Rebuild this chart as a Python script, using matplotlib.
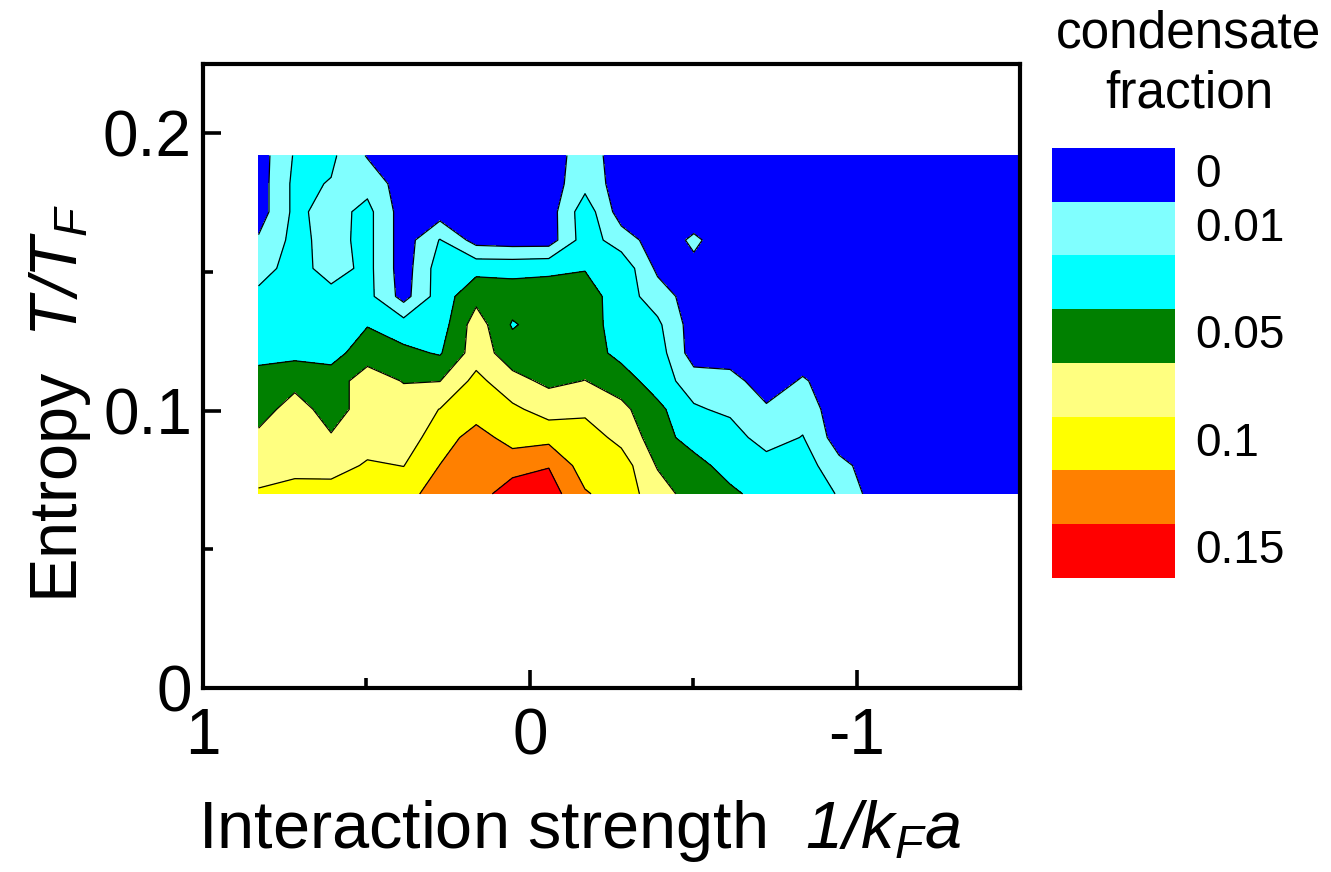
import numpy as np
import matplotlib
matplotlib.use("Agg")
import matplotlib.pyplot as plt

plt.rcParams['font.family'] = ['Liberation Sans', 'DejaVu Sans']
plt.rcParams['mathtext.fontset'] = 'custom'
plt.rcParams['mathtext.rm'] = 'Liberation Sans:italic'
plt.rcParams['mathtext.it'] = 'Liberation Sans:italic'
plt.rcParams['mathtext.bf'] = 'Liberation Sans:bold'

# interaction strength 1/kFa (grid columns, left to right on the plot)
interaction = [0.830, 0.719, 0.608, 0.497, 0.386, 0.275, 0.164, 0.053, -0.058, -0.169,
               -0.280, -0.391, -0.502, -0.613, -0.724, -0.835, -0.946, -1.057, -1.168,
               -1.279, -1.390, -1.500]
# T/TF (grid rows, bottom to top)
temperature = [0.0700, 0.0802, 0.0903, 0.1005, 0.1107, 0.1208, 0.1310, 0.1412, 0.1513,
               0.1615, 0.1717, 0.1818, 0.1920]

# condensate fraction in percent, one row per temperature (bottom to top)
fraction_pct = [
    [9.26, 10.0, 10.0, 10.0, 10.2, 12.0, 12.2, 14.0, 14.0, 11.2, 10.0, 8.0, 6.0, 5.52, 4.0, 4.0, 2.88, 0, 0, 0, 0, 0],
    [8.0, 8.14, 8.08, 9.26, 8.96, 11.04, 12.0, 12.24, 12.9, 10.0, 10.0, 6.82, 5.9, 4.0, 4.0, 4.0, 1.6, 0, 0, 0, 0, 0],
    [7.5, 8.0, 7.2, 8.0, 8.0, 10.0, 11.84, 10.2, 10.4, 10.0, 8.4, 6.0, 4.0, 4.0, 2.0, 3.1, 0, 0, 0, 0, 0, 0],
    [6.0, 8.0, 6.0, 8.0, 8.0, 9.04, 10.0, 9.4, 8.14, 8.56, 7.52, 5.52, 3.26, 2.58, 1.26, 2.0, 0, 0, 0, 0, 0, 0],
    [6.0, 6.3, 6.0, 8.0, 6.9, 6.96, 9.6, 7.6, 6.6, 7.04, 6.0, 4.0, 2.0, 1.7, 0, 1.2, 0, 0, 0, 0, 0, 0],
    [4.2, 4.5, 4.26, 6.08, 5.48, 4.82, 8.0, 6.0, 6.0, 6.0, 4.4, 4.0, 0, 0, 0, 0, 0, 0, 0, 0, 0, 0],
    [4.0, 4.0, 4.0, 4.9, 3.88, 4.0, 8.0, 4.8, 6.0, 6.0, 4.0, 3.4, 0, 0, 0, 0, 0, 0, 0, 0, 0, 0],
    [3.6, 4.0, 3.8, 3.64, 0.24, 4.0, 6.4, 6.0, 6.0, 5.9, 4.0, 2.0, 0, 0, 0, 0, 0, 0, 0, 0, 0, 0],
    [2.0, 4.0, 2.0, 3.6, 0, 4.0, 4.4, 4.4, 4.6, 4.9, 4.4, 0.58, 0.6, 0, 0, 0, 0, 0, 0, 0, 0, 0],
    [1.24, 3.6, 2.3, 3.6, 0, 3.1, 0.22, 0, 0, 4.0, 2.0, 0, 1.3, 0, 0, 0, 0, 0, 0, 0, 0, 0],
    [0, 3.48, 2.2, 3.6, 0, 0, 0, 0, 0, 4.2, 0, 0, 0, 0, 0, 0, 0, 0, 0, 0, 0, 0],
    [0, 3.48, 2.88, 2.3, 0, 0, 0, 0, 0, 2.34, 0, 0, 0, 0, 0, 0, 0, 0, 0, 0, 0, 0],
    [0, 3.2, 3.4, 0.84, 0, 0, 0, 0, 0, 2.0, 0, 0, 0, 0, 0, 0, 0, 0, 0, 0, 0, 0],
]

levels_pct = [-1, 1, 3, 5, 7, 9, 11, 13, 100]
band_colors = ['#0000ff', '#80ffff', '#00ffff', '#008000',
               '#ffff80', '#ffff00', '#ff8000', '#ff0000']
band_labels = ['0', '0.01', '', '0.05', '', '0.1', '', '0.15']

x_ticks = [1, 0, -1]
x_ticklabels = ['1', '0', '-1']
y_ticks = [0, 0.1, 0.2]
y_ticklabels = ['0', '0.1', '0.2']

W, H = 1331, 872
fig = plt.figure(figsize=(W / 100, H / 100), dpi=100)
ax = fig.add_axes([203 / W, 1 - 688 / H, (1020 - 203) / W, (688 - 64) / H])

X, Y = np.meshgrid(np.array(interaction), np.array(temperature))
Z = np.array(fraction_pct) / 100.0
levels = np.array(levels_pct) / 100.0

cs = ax.contourf(X, Y, Z, levels=levels, colors=band_colors)
ax.contour(X, Y, Z, levels=levels[1:-1], colors='black', linewidths=0.9)

ax.set_xlim(1, -1.5)
ax.set_ylim(0, 0.225)
ax.set_xticks(x_ticks)
ax.set_xticklabels(x_ticklabels)
ax.set_xticks([0.5, -0.5], minor=True)
ax.set_yticks(y_ticks)
ax.set_yticklabels(y_ticklabels)
ax.set_yticks([0.05, 0.15], minor=True)
ax.tick_params(which='both', direction='in', top=False, right=False, width=2.6)
ax.tick_params(which='major', length=13, labelsize=46)
ax.tick_params(axis='x', which='major', pad=14)
ax.tick_params(axis='y', which='major', pad=8)
ax.tick_params(which='minor', length=7)
for s in ax.spines.values():
    s.set_linewidth(3)

fig.text(580 / W, 1 - 848 / H, r"Interaction strength  $1/k_F a$",
         fontsize=48, ha='center', va='baseline')
fig.text(77 / W, 1 - 403 / H, r"Entropy  $T/T_F$", fontsize=48,
         rotation=90, rotation_mode='anchor', ha='center', va='baseline')

# colour key
cax = fig.add_axes([1052 / W, 1 - 578 / H, 123 / W, 430 / H])
cb = fig.colorbar(cs, cax=cax)
cb.set_ticks([])
cb.outline.set_visible(False)
cax.invert_yaxis()
n = len(band_colors)
for i, lab in enumerate(band_labels):
    if lab:
        cax.text(1.163, 1 - (i + 0.5) / n, lab, transform=cax.transAxes,
                 ha='left', va='center', fontsize=33)

fig.text(1189 / W, 1 - 47 / H, "condensate", fontsize=37, ha='center', va='baseline')
fig.text(1189 / W, 1 - 108 / H, "fraction", fontsize=37, ha='center', va='baseline')

fig.savefig("out.png", dpi=100)
